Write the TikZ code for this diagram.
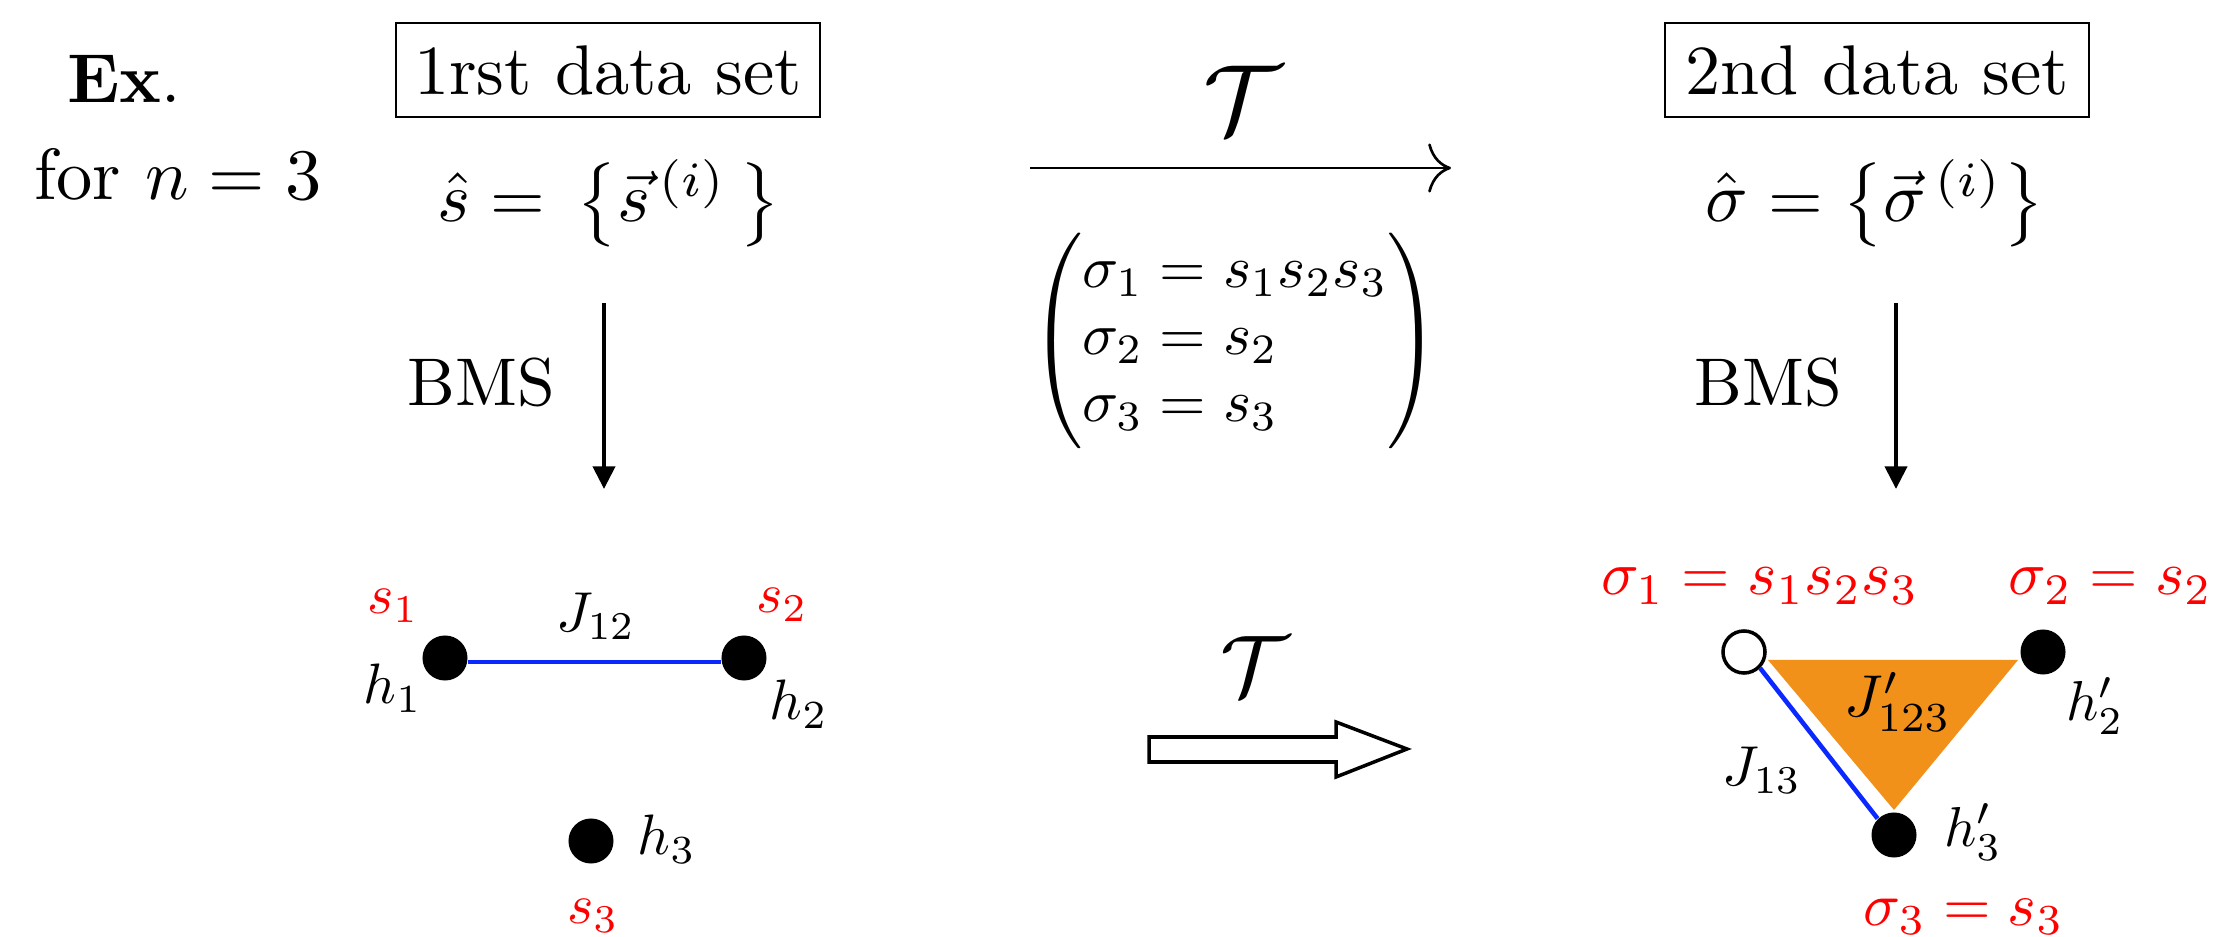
\documentclass[tikz,border=0pt]{standalone}
\usepackage{amsmath}
\usepackage{graphicx}
\usetikzlibrary{arrows.meta}
\definecolor{myorange}{RGB}{242,145,26}
\definecolor{myblue}{RGB}{10,40,255}
\newcommand{\magbox}[2]{\scalebox{#1}{#2}}
\begin{document}
\begin{tikzpicture}[x=0.01cm,y=-0.01cm,
  txt/.style={inner sep=0pt},
  rlab/.style={txt, text=red},
  databox/.style={txt, draw, line width=0.6pt, minimum width=4.23cm, minimum height=0.94cm},
  dot/.style={circle, fill=black, minimum size=0.45cm, inner sep=0pt},
  odot/.style={circle, draw=black, fill=white, line width=1pt, minimum size=0.42cm, inner sep=0pt},
  bms/.style={-{Triangle[length=6.4pt,width=6.2pt]}, line width=1.2pt},
  coupling/.style={myblue, line width=1.3pt}]
\useasboundingbox (0,0) rectangle (2214,937);
% top row
\node[txt, anchor=base] (ex) at (124,103) {\magbox{1.97}{\textbf{Ex}.}};
\node[txt, anchor=base] (forn) at (178,200) {\magbox{2.06}{for $n=3$}};
\node[databox] (box1) at (608,70) {\magbox{2.0}{1rst data set}};
\node[txt, anchor=base] (set1) at (609,222) {\magbox{2.0}{$\hat{s}=\,\bigl\{\vec{s}^{\,(i)}\,\bigr\}$}};
\node[databox] (box2) at (1877,70) {\magbox{2.0}{2nd data set}};
\node[txt, anchor=base] (set2) at (1875,222) {\magbox{2.0}{$\hat{\sigma}=\bigl\{\vec{\sigma}^{\,(i)}\bigr\}$}};
% transformation
\node[txt] (T1) at (1243,100) {\magbox{2.8}{$\mathcal{T}$}};
\coordinate (tl) at (1030,168);
\coordinate (tr) at (1451,168);
\draw[line width=0.75pt, -{To[length=6.5pt,width=14pt]}] (tl) -- (tr);
\node[txt] (mat) at (1235,341)
  {\magbox{1.7}{$\renewcommand{\arraystretch}{0.93}\left(\begin{array}{@{}l@{}}
     \sigma_1=s_1s_2s_3\\ \sigma_2=s_2\\ \sigma_3=s_3
   \end{array}\right)$}};
% BMS arrows
\node[txt, anchor=base] (bms1) at (481,406) {\magbox{1.92}{BMS}};
\coordinate (b1t) at (604,303);
\coordinate (b1b) at (604,489);
\draw[bms] (b1t) -- (b1b);
\node[txt, anchor=base] (bms2) at (1768,406) {\magbox{1.92}{BMS}};
\coordinate (b2t) at (1896,303);
\coordinate (b2b) at (1896,489);
\draw[bms] (b2t) -- (b2b);
% left graph
\node[dot] (d1) at (445,658) {};
\node[dot] (d2) at (744,658) {};
\node[dot] (d3) at (591,841) {};
\draw[coupling] ([yshift=-0.04cm]d1.east) -- ([yshift=-0.04cm]d2.west);
\node[rlab] (ls1) at (393,606) {\magbox{1.6}{$s_1$}};
\node[rlab] (ls2) at (782,605) {\magbox{1.6}{$s_2$}};
\node[rlab] (ls3) at (593,916) {\magbox{1.6}{$s_3$}};
\node[txt] (lJ12) at (596,616) {\magbox{1.6}{$J_{12}$}};
\node[txt] (lh1) at (393,688) {\magbox{1.62}{$h_1$}};
\node[txt] (lh2) at (799,704) {\magbox{1.62}{$h_2$}};
\node[txt] (lh3) at (667,839) {\magbox{1.62}{$h_3$}};
% middle hollow arrow
\node[txt] (T2) at (1255,666) {\magbox{2.45}{$\mathcal{T}$}};
\draw[line width=1pt, fill=white] (1149,737) -- (1336,737) -- (1336,722) -- (1407,749)
  -- (1336,777) -- (1336,762) -- (1149,762) -- cycle;
% right graph
\fill[myorange] (1768,660) -- (2018,660) -- (1894,810) -- cycle;
\node[odot] (c1) at (1744,652) {};
\node[dot] (e2) at (2043,652) {};
\node[dot] (e3) at (1894,835) {};
\draw[coupling] (c1.south east) -- (e3.north west);
\node[rlab] (rs1) at (1760,586) {\magbox{1.77}{$\sigma_1=s_1s_2s_3$}};
\node[rlab, anchor=east] (rs2) at (2213,586) {\magbox{1.77}{$\sigma_2=s_2$}};
\node[rlab] (rs3) at (1964,917) {\magbox{1.74}{$\sigma_3=s_3$}};
\node[txt] (lJ123) at (1898,702) {\magbox{1.68}{$J'_{123}$}};
\node[txt] (lhp2) at (2095,706) {\magbox{1.6}{$h'_2$}};
\node[txt] (lJ13) at (1762,770) {\magbox{1.6}{$J_{13}$}};
\node[txt] (lhp3) at (1973,832) {\magbox{1.6}{$h'_3$}};
\end{tikzpicture}
\end{document}
